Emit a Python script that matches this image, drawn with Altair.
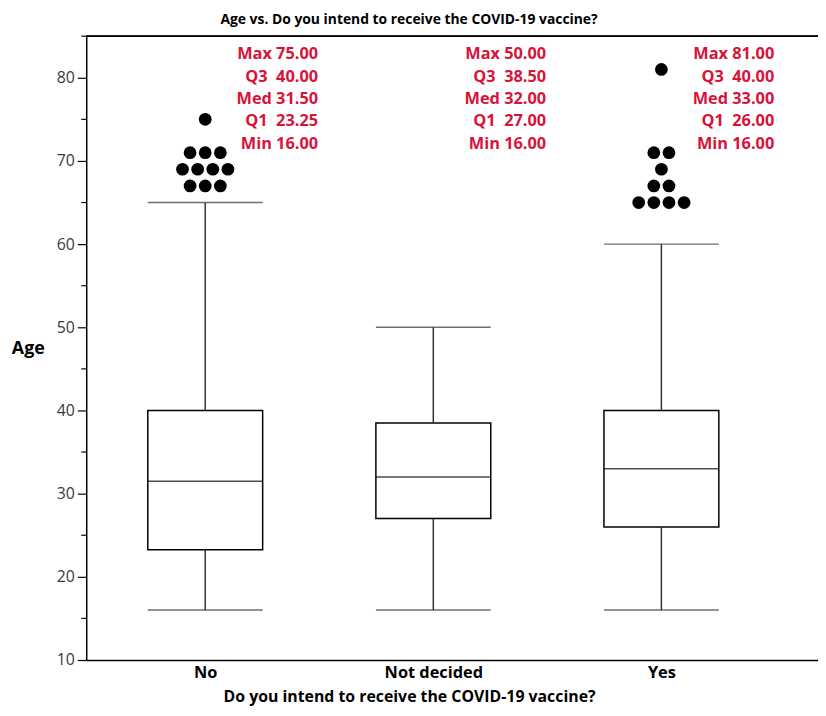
import altair as alt
import pandas as pd

# ---- data ----
groups = ["No", "Not decided", "Yes"]
mins = [16.0, 16.0, 16.0]
q1s = [23.25, 27.0, 26.0]
meds = [31.5, 32.0, 33.0]
q3s = [40.0, 38.5, 40.0]
maxs = [75.0, 50.0, 81.0]
whisker_hi = [65.0, 50.0, 60.0]
whisker_lo = [16.0, 16.0, 16.0]
outliers = {
    "No": [75, 71, 71, 71, 69, 69, 69, 69, 67, 67, 67],
    "Not decided": [],
    "Yes": [81, 71, 71, 69, 67, 67, 65, 65, 65, 65],
}
stat_names = ["Max", "Q3", "Med", "Q1", "Min"]
minor_ticks = [15, 25, 35, 45, 55, 65, 75, 85]
chart_title = ["Age vs. Do you intend to receive the COVID-19 vaccine?"]

# ---- layout / style ----
W, H = 739, 630
STEP_PX = 233.5
BOX_PX = 116
DOT_GAP = 15.5 / STEP_PX
RED = "#d8133a"
FONT = "Open Sans"

box_df = pd.DataFrame({
    "group": groups, "pos": list(range(len(groups))),
    "q1": q1s, "med": meds, "q3": q3s, "lo": whisker_lo, "hi": whisker_hi,
})

# outlier points, spread horizontally where values repeat
rows = []
for gi, g in enumerate(groups):
    vals = outliers[g]
    counts = {}
    for v in vals:
        counts[v] = counts.get(v, 0) + 1
    seen = {}
    for v in vals:
        k = seen.get(v, 0)
        seen[v] = k + 1
        n = counts[v]
        rows.append({"group": g, "pos": gi, "age": v, "slot": k - (n - 1) / 2})
out_df = pd.DataFrame(rows)

# summary-statistic annotations
srows = []
for gi, g in enumerate(groups):
    vals = [maxs[gi], q3s[gi], meds[gi], q1s[gi], mins[gi]]
    for r, (nm, v) in enumerate(zip(stat_names, vals)):
        sep = "\u00a0" if len(nm) == 3 else "\u00a0\u00a0"
        srows.append({"group": g, "pos": gi, "row": r, "label": f"{nm}{sep}{v:.2f}"})
stat_df = pd.DataFrame(srows)

minor_df = pd.DataFrame({"age": minor_ticks})
title_df = pd.DataFrame({"t": chart_title})

xscale = alt.Scale(domain=[-0.5, W / STEP_PX - 0.5], nice=False, zero=False)
yscale = alt.Scale(domain=[10, 85], nice=False, zero=False)

label_expr = "[" + ",".join(f"'{g}'" for g in groups) + "][datum.value]"
x_enc = alt.X(
    "pos:Q", scale=xscale,
    axis=alt.Axis(
        values=list(range(len(groups))), labelExpr=label_expr, ticks=False, grid=False,
        title="Do you intend to receive the COVID-19 vaccine?",
        titleX=413 - 87, titleY=37, titleAlign="center", titleBaseline="middle",
        labelFont=FONT, labelFontWeight="bold", labelFontSize=16.5, labelColor="black",
        labelPadding=5, titleFont=FONT, titleFontSize=16, titleFontWeight="bold",
        titleColor="black", domainColor="black", domainWidth=1.5,
    ),
)
y_axis = alt.Axis(
    values=[10, 20, 30, 40, 50, 60, 70, 80], grid=False, title="Age",
    titleAngle=0, titleX=-59, titleY=315, titleAlign="center", titleBaseline="middle",
    titleFont=FONT, titleFontSize=18, titleFontWeight="bold", titleColor="black",
    labelFont=FONT, labelFontSize=16, labelColor="#3a3a3a", labelPadding=3,
    tickSize=9, tickColor="black", tickWidth=1.2, domainColor="black", domainWidth=1.5,
)

base = alt.Chart(box_df)

boxes = base.mark_bar(
    size=BOX_PX, fill="white", stroke="black", strokeWidth=1.5, orient="vertical"
).encode(x=x_enc, y=alt.Y("q1:Q", scale=yscale, axis=y_axis), y2="q3:Q")

median = base.mark_tick(
    orient="horizontal", size=BOX_PX, thickness=1.5, color="black"
).encode(x="pos:Q", y="med:Q")

whisk_up = base.mark_rule(color="#333333", strokeWidth=1.5).encode(
    x="pos:Q", y="q3:Q", y2="hi:Q")
whisk_dn = base.mark_rule(color="#333333", strokeWidth=1.5).encode(
    x="pos:Q", y="lo:Q", y2="q1:Q")
cap_hi = base.mark_tick(orient="horizontal", size=BOX_PX, thickness=1.5,
                        color="#333333").encode(x="pos:Q", y="hi:Q")
cap_lo = base.mark_tick(orient="horizontal", size=BOX_PX, thickness=1.5,
                        color="#333333").encode(x="pos:Q", y="lo:Q")

dots = alt.Chart(out_df).transform_calculate(
    xj=f"datum.pos + datum.slot * {DOT_GAP}"
).mark_circle(size=165, color="black", opacity=1).encode(
    x="xj:Q", y="age:Q")

stats = alt.Chart(stat_df).transform_calculate(
    ypix="18.5 + 22.5 * datum.row"
).mark_text(
    align="right", baseline="middle", dx=114, font=FONT, fontSize=16.5,
    fontWeight="bold", color=RED,
).encode(x="pos:Q", y=alt.Y("ypix:Q", scale=None), text="label:N")

minor = alt.Chart(minor_df).mark_rule(color="black", strokeWidth=1.2).encode(
    x=alt.value(-5), x2=alt.value(0), y="age:Q")

top_line = alt.Chart(box_df).mark_rule(color="black", strokeWidth=1.5).encode(
    x=alt.value(0), x2=alt.value(W), y=alt.value(0))

title_txt = alt.Chart(title_df).mark_text(
    align="center", baseline="middle", font=FONT, fontSize=14,
    fontWeight="bold", color="black",
).encode(x=alt.value(413 - 87), y=alt.value(-16), text="t:N")

chart = alt.layer(
    boxes, median, whisk_up, whisk_dn, cap_hi, cap_lo, dots, stats, minor,
    top_line, title_txt
).properties(
    width=W, height=H,
    autosize=alt.AutoSizeParams(type="none"),
    padding={"left": 79, "top": 25, "right": 0, "bottom": 45},
).configure_view(stroke=None)

chart.save("out.html", embed_options={"renderer": "svg", "actions": False})
